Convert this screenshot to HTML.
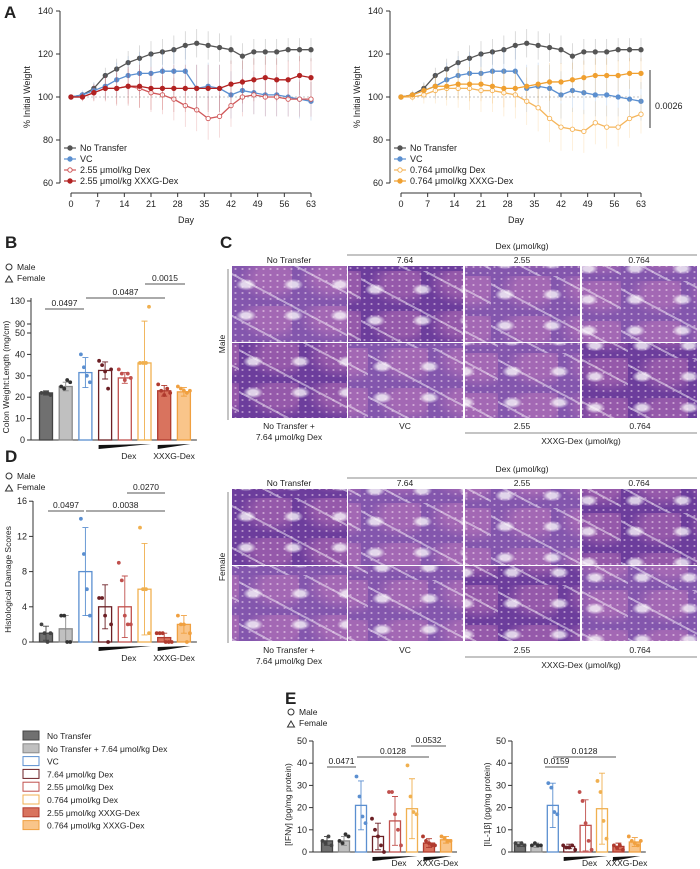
<!DOCTYPE html>
<html><head><meta charset="utf-8">
<style>
body{margin:0;background:#fff;width:700px;height:869px;overflow:hidden;position:relative;font-family:"Liberation Sans",sans-serif}
svg{position:absolute;left:0;top:0}
.ph{position:absolute;width:115px;height:75px;
background:
radial-gradient(ellipse at 50% 50%,rgba(255,235,250,.55) 0 15%,transparent 28%) 0 0/7px 6px,
radial-gradient(ellipse at 30% 60%,rgba(255,255,255,.75) 0 10%,transparent 22%) 0 0/47px 31px,
repeating-linear-gradient(28deg,transparent 0 22px,rgba(255,255,255,.45) 22px 24px,transparent 24px 37px),
radial-gradient(ellipse at 70% 30%,rgba(210,130,190,.4) 0 30%,transparent 60%) 0 0/60px 40px,
#8356ad}
.ph.d{background-color:#6c3d9c}
</style></head>
<body>
<div id="photos"></div>
<svg id="root" width="700" height="869" viewBox="0 0 700 869" font-family="Liberation Sans, sans-serif">
<g font-size="9" fill="#222">
<text x="4" y="18" font-size="17" font-weight="bold">A</text>
<text x="5" y="248" font-size="17" font-weight="bold">B</text>
<text x="220" y="248" font-size="17" font-weight="bold">C</text>
<text x="5" y="462" font-size="17" font-weight="bold">D</text>
<text x="285" y="704" font-size="17" font-weight="bold">E</text>
</g>
<g id="g"></g>
</svg>
<script>
// ===== Panel A data =====
const aDays=[0,3,6,9,12,15,18,21,24,27,30,33,36,39,42,45,48,51,54,57,60,63];
const aNoTransfer=[100,101,104,110,113,116,118,120,121,122,124,125,124,123,122,119,121,121,121,122,122,122];
const aVC=[100,101,103,105,108,110,111,111,112,112,112,104,105,104,101,103,102,101,101,100,99,98];
const aDex255=[100,100,102,104,104,105,104,102,101,99,96,94,90,91,96,100,101,100,100,99,99,99];
const aXXXG255=[100,100,102,104,104,105,105,104,104,104,104,104,104,104,106,107,108,109,108,108,110,109];
const aDex0764=[100,100,101,103,104,104,104,103,103,102,101,98,95,90,86,85,84,88,86,86,90,92];
const aXXXG0764=[100,101,103,105,105,106,106,106,105,104,104,105,106,107,107,108,109,110,110,110,111,111];
const aSD=[0,2,4,6,8,9,10,10,10,11,11,11,11,11,11,10,10,10,10,9,9,9];
const aYTicks=[60,80,100,120,140];
const aXTicks=[0,7,14,21,28,35,42,49,56,63];
// ===== Bar groups =====
const groups=["No Transfer","No Transfer + 7.64 μmol/kg Dex","VC","7.64 μmol/kg Dex","2.55 μmol/kg Dex","0.764 μmol/kg Dex","2.55 μmol/kg XXXG-Dex","0.764 μmol/kg XXXG-Dex"];
const gFill=["#707070","#c0c0c0","none","none","none","none","#d9735e","#f9c58a"];
const gStroke=["#444","#8a8a8a","#5b8fd0","#6b1f24","#c0504d","#f0b050","#b03a2e","#f0a040"];
// B
const bMeans=[22,25,31.5,32.5,29,36,23,22.5];
const bSD=[1,2,7,4,2.5,59,2.5,2];
const bPts=[[22,22,22,21],[25,24,28,27],[40,34,30,27],[37,35,32,24,33],[33,31,28,31,29],[36,36,36,120],[26,23,21,24,22],[25,24,23,22,23]];
const bTicks=[0,10,20,30,40,50,90,130];
// D
const dMeans=[1,1.5,8,4,4,6,0.5,2];
const dSD=[0.8,1.5,5,2.5,3.5,5.2,0.5,1];
const dPts=[[2,1,0,1],[3,3,0,0],[14,10,6,3],[5,5,3,0,2],[9,7,3,2,2],[13,6,6,1],[1,1,1,0,0,0],[3,2,2,0,1]];
const dTicks=[0,4,8,12,16];
// E
const eIfnMeans=[5,5,21,7,14,19.5,4,5.5];
const eIfnSD=[2,2,11,6,11,13.5,2,1.5];
const eIfnPts=[[5,4,7,3],[5,4,8,7],[34,25,16,13],[15,10,7,3,0],[27,27,17,10,3],[39,25,18,17],[7,5,4,3,3],[7,6,5,5]];
const eIlMeans=[3.5,3,21,2.5,12,19.5,2.5,4.5];
const eIlSD=[1,1,10,1,11.5,16,1.5,2];
const eIlPts=[[4,3,4,3],[3,4,3,3],[31,29,18,17],[3,2,2,3,1],[27,23,13,5,1],[32,27,14,6],[3,2,3,1],[7,5,4,3,5]];
const eTicks=[0,10,20,30,40,50];

const NS="http://www.w3.org/2000/svg";
const G=document.getElementById('g');
function mk(tag,a,parent){const e=document.createElementNS(NS,tag);for(const k in a)e.setAttribute(k,a[k]);(parent||G).appendChild(e);return e;}
function txt(x,y,s,size,anchor,extra){const t=mk('text',Object.assign({x:x,y:y,'font-size':size||8,'text-anchor':anchor||'start',fill:'#222'},extra||{}));t.textContent=s;return t;}

// ===== Panel A =====
function lineChart(ox,series,legendNames,tag){
  const x0=ox+71,x1=ox+311,yTop=11,yBot=183;
  const X=d=>x0+d*(x1-x0)/63, Y=v=>yBot-(v-60)*(yBot-yTop)/80;
  let e=mk('line',{x1:ox+60,y1:yTop,x2:ox+60,y2:yBot,stroke:'#333','stroke-width':1});
  
  
  e=mk('line',{x1:x0,y1:193,x2:x1,y2:193,stroke:'#333','stroke-width':1});
  
  
  aYTicks.forEach(v=>{mk('line',{x1:ox+56,y1:Y(v),x2:ox+60,y2:Y(v),stroke:'#333'});const t=txt(ox+53,Y(v)+3,String(v),9,'end');
    
    });
  aXTicks.forEach(d=>{mk('line',{x1:X(d),y1:193,x2:X(d),y2:197,stroke:'#333'});const t=txt(X(d),207,String(d),9,'middle');
    
    });
  let t=txt(ox+186,223,'Day',9,'middle');
  
  
  t=txt(0,0,'% Initial Weight',9,'middle',{transform:`translate(${ox+30},97) rotate(-90)`});
  
  
  mk('line',{x1:x0,y1:Y(100),x2:x1,y2:Y(100),stroke:'#888','stroke-dasharray':'2,2','stroke-width':0.6});
  series.forEach((s,si)=>{
    const pts=s.v.map((v,i)=>[X(aDays[i]),Y(v)]);
    s.v.forEach((v,i)=>{const el=mk('line',{x1:X(aDays[i]),x2:X(aDays[i]),y1:Y(v-aSD[i]*s.sd),y2:Y(v+aSD[i]*s.sd),stroke:s.c,'stroke-opacity':0.3,'stroke-width':0.7});
      
      });
    const p=mk('polyline',{points:pts.map(p=>p.join(',')).join(' '),fill:'none',stroke:s.c,'stroke-width':1.3});
    
    
    pts.forEach(q=>{const c=mk('circle',{cx:q[0],cy:q[1],r:2.2,fill:s.open?'#fff':s.c,stroke:s.c,'stroke-width':0.9});
      
      });
    const ly=151+si*11;
    mk('line',{x1:ox+64,y1:ly-3,x2:ox+76,y2:ly-3,stroke:s.c,'stroke-width':1.2});
    const lc=mk('circle',{cx:ox+70,cy:ly-3,r:2.2,fill:s.open?'#fff':s.c,stroke:s.c});
    
    
    const lt=txt(ox+80,ly,legendNames[si],9);
    
    
  });
}
lineChart(0,[{v:aNoTransfer,c:'#555',sd:0.6},{v:aVC,c:'#5b8fd0',sd:1},{v:aDex255,c:'#d0585a',open:true,sd:0.9},{v:aXXXG255,c:'#b22222',sd:1}],
 ['No Transfer','VC','2.55 μmol/kg Dex','2.55 μmol/kg XXXG-Dex'],'weight-left');
lineChart(330,[{v:aNoTransfer,c:'#555',sd:0.6},{v:aVC,c:'#5b8fd0',sd:1},{v:aDex0764,c:'#f5b55a',open:true,sd:1},{v:aXXXG0764,c:'#f0a030',sd:0.8}],
 ['No Transfer','VC','0.764 μmol/kg Dex','0.764 μmol/kg XXXG-Dex'],'weight-right');
mk('line',{x1:650,y1:70,x2:650,y2:128,stroke:'#333'});
let st=txt(655,109,'0.0026',9);



// ===== Bar charts =====
function barChart(cfg){
  const Y=cfg.Y;
  let e=mk('line',{x1:cfg.ax,y1:cfg.yTop,x2:cfg.ax,y2:cfg.y0,stroke:'#333'});
  
  
  e=mk('line',{x1:cfg.ax,y1:cfg.y0,x2:cfg.x0+cfg.step*7+cfg.w,y2:cfg.y0,stroke:'#333'});
  
  
  cfg.ticks.forEach(v=>{mk('line',{x1:cfg.ax-4,y1:Y(v),x2:cfg.ax,y2:Y(v),stroke:'#333'});const t=txt(cfg.ax-6,Y(v)+3,String(v),9,'end');
    
    });
  const t=txt(0,0,cfg.title,8.5,'middle',{transform:`translate(${cfg.ax-22},${(cfg.y0+cfg.yTop)/2+8}) rotate(-90)`});
  
  
  cfg.means.forEach((m,i)=>{
    const cx=cfg.x0+i*cfg.step;
    const r=mk('rect',{x:cx-cfg.w/2,y:Y(m),width:cfg.w,height:cfg.y0-Y(m),fill:gFill[i]==='none'?'#fff':gFill[i],stroke:gStroke[i],'stroke-width':1.3});
    
    
    const sd=cfg.sd[i];
    const eb=mk('path',{d:`M${cx},${Y(Math.max(0,m-sd))}V${Y(m+sd)}M${cx-3},${Y(m+sd)}h6M${cx-3},${Y(Math.max(0,m-sd))}h6`,stroke:gStroke[i],fill:'none','stroke-width':0.9});
    
    
    const pts=cfg.pts[i];
    pts.forEach((v,j)=>{const px=cx+(j-(pts.length-1)/2)*3;const c=mk('circle',{cx:px,cy:Y(v),r:1.9,fill:gStroke[i]==='#8a8a8a'?'#333':gStroke[i]});
      
      });
  });
  const a=cfg.x0+3*cfg.step-cfg.w/2, b=cfg.x0+5*cfg.step+cfg.w/2, c2=cfg.x0+6*cfg.step-cfg.w/2, d2=cfg.x0+7*cfg.step+cfg.w/2;
  let w=mk('polygon',{points:`${a},${cfg.y0+5} ${b},${cfg.y0+4} ${a},${cfg.y0+9}`,fill:'#111'});
  
  
  w=mk('polygon',{points:`${c2},${cfg.y0+5} ${d2},${cfg.y0+4} ${c2},${cfg.y0+9}`,fill:'#111'});
  
  
  let l=txt((a+b)/2+4,cfg.y0+cfg.lblOff,'Dex',8.5,'middle');
  
  
  l=txt((c2+d2)/2,cfg.y0+cfg.lblOff,'XXXG-Dex',8.5,'middle');
  
  
  cfg.sig.forEach(s=>{mk('line',{x1:s[0],x2:s[1],y1:s[2],y2:s[2],stroke:'#555','stroke-width':0.9});const q=txt((s[0]+s[1])/2,s[2]-3,s[3],8.5,'middle');
    
    });
  if(cfg.leg){const c=mk('circle',{cx:cfg.leg[0]+4,cy:cfg.leg[1]-3,r:3,fill:'none',stroke:'#333'});
    
    
    const m=mk('polygon',{points:`${cfg.leg[0]+4},${cfg.leg[1]+6} ${cfg.leg[0]+7.5},${cfg.leg[1]+12} ${cfg.leg[0]+0.5},${cfg.leg[1]+12}`,fill:'none',stroke:'#333'});
    
    
    let q=txt(cfg.leg[0]+12,cfg.leg[1],'Male',8.5);
    
    
    q=txt(cfg.leg[0]+12,cfg.leg[1]+11,'Female',8.5);
    
    }
}
barChart({tag:'colon',ax:31,yTop:298,y0:440,x0:46,step:19.7,w:13,lblOff:19,means:bMeans,sd:bSD,pts:bPts,ticks:bTicks,
  Y:v=>v<=50?440-v*2.14:(v<90?333-(v-50)*0.225:324-(v-90)*0.575),title:'Colon Weight:Length (mg/cm)',
  sig:[[45,84,309,'0.0497'],[86,165,298,'0.0487'],[145,185,284,'0.0015']],leg:[5,270]});
barChart({tag:'histology',ax:33,yTop:501,y0:642,x0:46,step:19.7,w:13,lblOff:19,means:dMeans,sd:dSD,pts:dPts,ticks:dTicks,
  Y:v=>642-v*8.8,title:'Histological Damage Scores',
  sig:[[48,84,511,'0.0497'],[86,165,511,'0.0038'],[127,165,493,'0.0270']],leg:[5,479]});
barChart({tag:'ifng',ax:313,yTop:741,y0:852,x0:327,step:17,w:11,lblOff:14,means:eIfnMeans,sd:eIfnSD,pts:eIfnPts,ticks:eTicks,
  Y:v=>852-v*2.22,title:'[IFNγ] (pg/mg protein)',
  sig:[[327,356,767,'0.0471'],[357,429,757,'0.0128'],[411,446,746,'0.0532']],leg:[287,715]});
barChart({tag:'il1b',ax:512,yTop:741,y0:852,x0:520,step:16.4,w:11,lblOff:14,means:eIlMeans,sd:eIlSD,pts:eIlPts,ticks:eTicks,
  Y:v=>852-v*2.22,title:'[IL-1β] (pg/mg protein)',
  sig:[[545,568,767,'0.0159'],[553,616,757,'0.0128']]});

groups.forEach((gname,i)=>{const y=739+i*12.8;
  const r=mk('rect',{x:23,y:y-8,width:16,height:9,fill:gFill[i]==='none'?'#fff':gFill[i],stroke:gStroke[i],'stroke-width':1});
  
  
  const t=txt(47,y,gname,8.5);
  
  });

// ===== Panel C (histology) =====
const colX=[232,348,465,582];
const P=document.getElementById('photos');
[[266,343],[489,566]].forEach((rows,bi)=>{
  rows.forEach((ry,ri)=>colX.forEach((cx,ci)=>{
    const d=document.createElement('div');
    d.className='ph'+((ci+ri+bi)%3===1?' d':'');
    d.style.left=cx+'px';d.style.top=ry+'px';d.style.height=(ri?75:76)+'px';
    d.style.backgroundPosition=(ci*13+ri*7)+'px '+(bi*9+ci*5)+'px';
    
    
    P.appendChild(d);
  }));
});
function cLabels(top,sex,bottomY){
  let t=txt(522,top,'Dex (μmol/kg)',8.5,'middle');
  
  
  mk('line',{x1:347,x2:697,y1:top+6,y2:top+6,stroke:'#888'});
  ['No Transfer','7.64','2.55','0.764'].forEach((s,i)=>{const q=txt(colX[i]+57,top+14,s,8.5,'middle');
    
    });
  mk('line',{x1:228,x2:228,y1:top+20,y2:top+171,stroke:'#888'});
  t=txt(0,0,sex,8.5,'middle',{transform:`translate(225,${top+95}) rotate(-90)`});
  
  
  [['No Transfer +',289],['VC',405],['2.55',522],['0.764',640]].forEach(s=>{const q=txt(s[1],bottomY,s[0],8.5,'middle');
    
    });
  t=txt(289,bottomY+11,'7.64 μmol/kg Dex',8.5,'middle');
  
  
  mk('line',{x1:465,x2:697,y1:bottomY+4,y2:bottomY+4,stroke:'#888'});
  t=txt(581,bottomY+15,'XXXG-Dex (μmol/kg)',8.5,'middle');
  
  
}
cLabels(249,'Male',429);
cLabels(472,'Female',653);
</script>
</body></html>
